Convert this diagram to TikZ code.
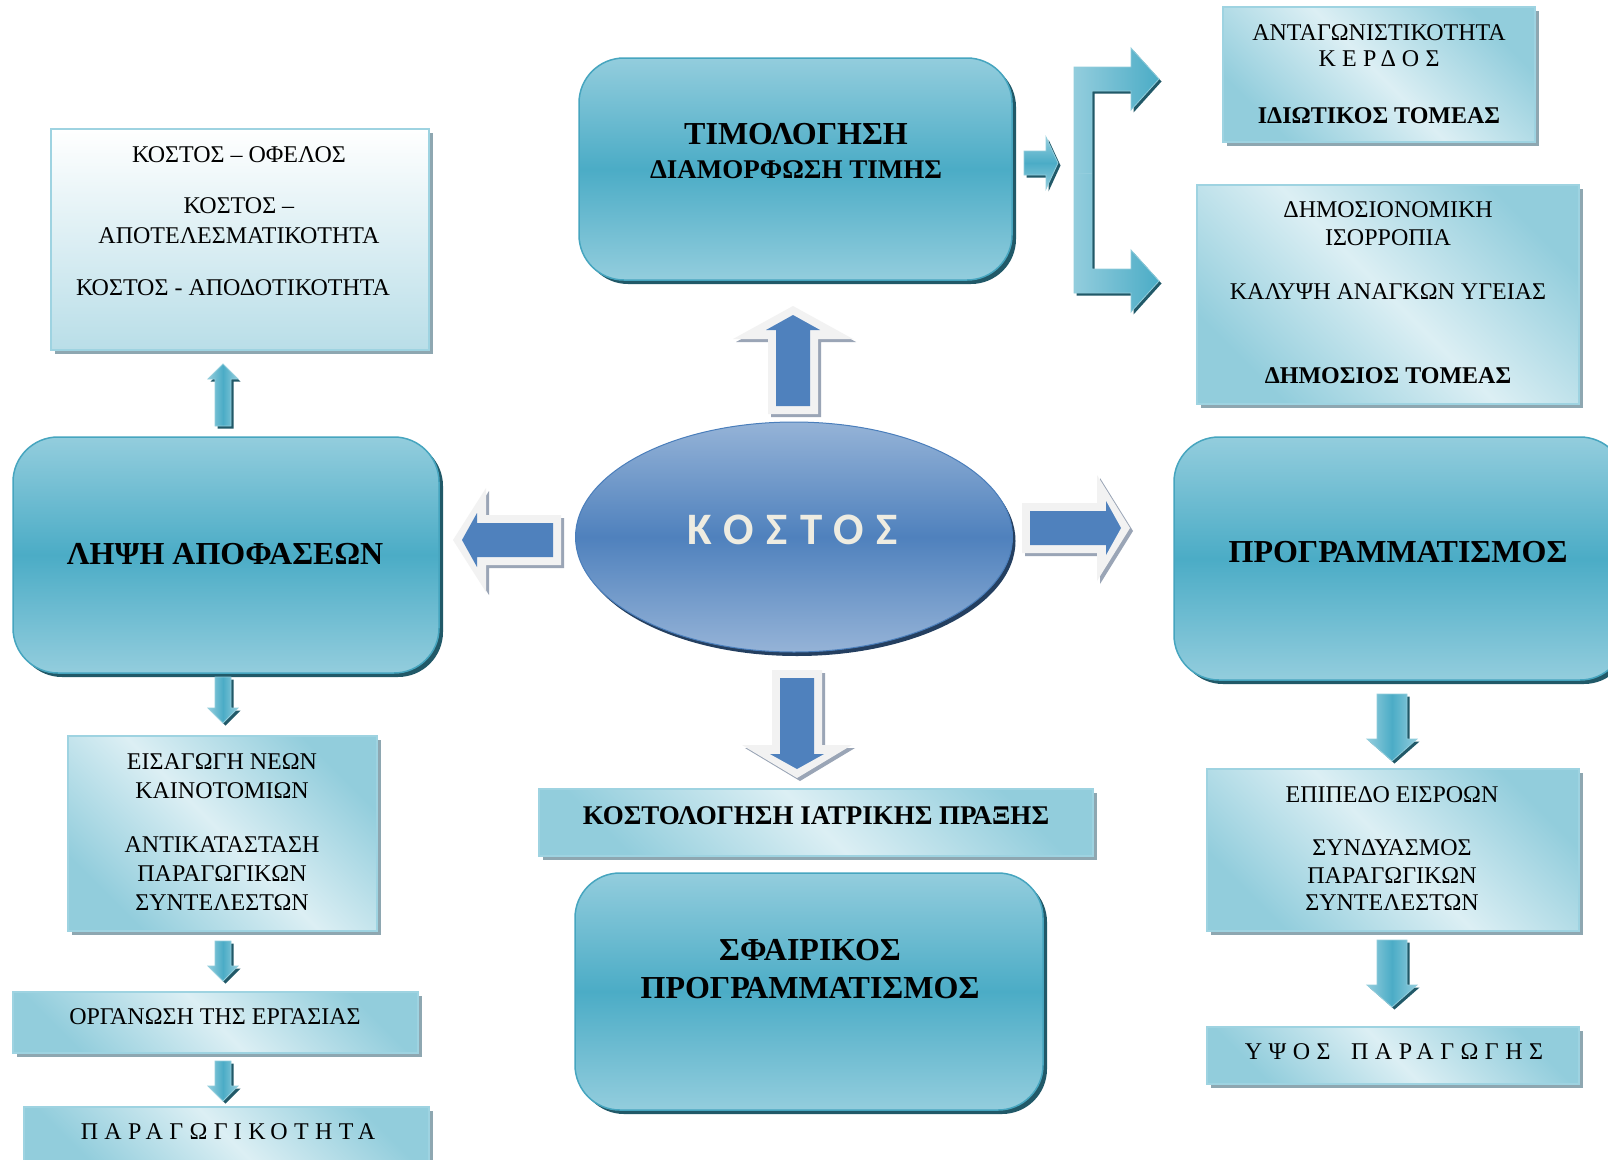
\documentclass[tikz,border=0pt]{standalone}
\usepackage{fontspec}
\setmainfont{Liberation Serif}
\newfontfamily\ellipsefont{Carlito}
\usetikzlibrary{shapes.geometric,shadows}

\definecolor{tealL}{HTML}{93CDDD}
\definecolor{tealM}{HTML}{4BACC6}
\definecolor{tealB}{HTML}{46A5BF}
\definecolor{tealS}{HTML}{215968}
\definecolor{boxC}{HTML}{92CDDC}
\definecolor{boxL}{HTML}{DCEFF4}
\definecolor{boxT}{HTML}{B9DEE8}
\definecolor{boxB}{HTML}{9ED3E1}
\definecolor{boxS}{HTML}{8EA7B1}
\definecolor{blueM}{HTML}{4F81BD}
\definecolor{blueL}{HTML}{95B3D7}
\definecolor{blueB}{HTML}{4A7EBB}
\definecolor{blueS}{HTML}{243F60}
\definecolor{arrW}{HTML}{F2F2F2}
\definecolor{arrS}{HTML}{9AA5B6}
\definecolor{kText}{HTML}{EEECE1}

\tikzset{
  tealbox/.style={rounded corners=45pt, draw=tealB, line width=1.5pt,
    top color=tealL, bottom color=tealL, middle color=tealM,
    drop shadow={shadow xshift=4pt, shadow yshift=-4pt, fill=tealS, opacity=1}},
  litebase/.style={draw=boxB, line width=2pt,
    drop shadow={shadow xshift=4pt, shadow yshift=-4pt, fill=boxS, opacity=1}},
  litebox/.style={litebase, top color=boxC, bottom color=boxC, middle color=boxL, shading angle=-45},
  litetop/.style={litebase, top color=white, bottom color=boxT},
  txt/.style={font=\fontsize{24}{30}\selectfont, align=center, inner sep=0pt},
  headtxt/.style={font=\bfseries\fontsize{32}{38}\selectfont, align=center, inner sep=0pt},
  subtxt/.style={font=\bfseries\fontsize{27}{32}\selectfont, align=center, inner sep=0pt},
}

% white-rimmed blue block arrow; apex at (#1,#2), direction #3, outer head half-width #4
\newcommand\blockarrow[4]{%
  \begin{scope}[shift={(#1+3,#2+3)}, rotate=#3]
    \fill[arrS] (0,0) -- (-33,#4) -- (-33,25) -- (-108,25) -- (-108,-25) -- (-33,-25) -- (-33,-#4) -- cycle;
  \end{scope}
  \begin{scope}[shift={(#1,#2)}, rotate=#3]
    \fill[arrW] (0,0) -- (-33,#4) -- (-33,25) -- (-108,25) -- (-108,-25) -- (-33,-25) -- (-33,-#4) -- cycle;
    \fill[blueM] (-9,0) -- (-24,27) -- (-24,17) -- (-100,17) -- (-100,-17) -- (-24,-17) -- (-24,-27) -- cycle;
  \end{scope}}

% small cyan vertical arrow: centre x, base y, tip y, shaft half, head half, head-base y
\newcommand\cyanarrow[6]{%
  \begin{scope}[shift={(2.5,2.5)}]
    \fill[tealS] (#1-#4,#2) -- (#1-#4,#6) -- (#1-#5,#6) -- (#1,#3) -- (#1+#5,#6) -- (#1+#4,#6) -- (#1+#4,#2) -- cycle;
  \end{scope}
  \shade[left color=tealL, right color=tealL, middle color=tealM, draw=boxC, line width=0.8pt]
    (#1-#4,#2) -- (#1-#4,#6) -- (#1-#5,#6) -- (#1,#3) -- (#1+#5,#6) -- (#1+#4,#6) -- (#1+#4,#2) -- cycle;}

\begin{document}
\begin{tikzpicture}[x=1pt,y=-1pt]
\useasboundingbox (0,0) rectangle (1608,1159);
\clip (0,0) rectangle (1608,1159);
\fill[white] (0,0) rectangle (1608,1159);

% ---- main boxes ----
\node[tealbox, minimum width=433pt, minimum height=222pt] (timol) at (795.5,169) {};
\node[tealbox, minimum width=426pt, minimum height=236pt] (lipsi) at (226,555) {};
\node[tealbox, minimum width=451pt, minimum height=243pt] (progr) at (1399.5,558.5) {};
\node[tealbox, minimum width=468pt, minimum height=237pt] (sfair) at (809,991.5) {};

\node[litetop, minimum width=378pt, minimum height=221pt] (ofelos) at (240,239.5) {};
\node[litebox, minimum width=312pt, minimum height=135pt] (idiot) at (1379,74.5) {};
\node[litebox, minimum width=382pt, minimum height=219pt] (dimos) at (1388,294.5) {};
\node[litebox, minimum width=309pt, minimum height=195pt] (eisag) at (222.5,833.5) {};
\node[litebox, minimum width=405pt, minimum height=61pt] (organ) at (215.5,1022.5) {};
\node[litebox, minimum width=405pt, minimum height=58pt] (parag) at (226.5,1136) {};
\node[litebox, minimum width=554pt, minimum height=67pt] (kostol) at (816,822.5) {};
\node[litebox, minimum width=372pt, minimum height=162pt] (epip) at (1393,850) {};
\node[litebox, minimum width=372pt, minimum height=57pt] (ypsos) at (1393,1055.5) {};

% ---- central ellipse ----
\node[ellipse, minimum width=437pt, minimum height=230pt, draw=blueB, line width=1pt,
      top color=blueL, bottom color=blueL, middle color=blueM,
      drop shadow={shadow xshift=3pt, shadow yshift=-4pt, fill=blueS, opacity=1}] (kostos) at (794,537) {};
\node[font=\ellipsefont\bfseries\fontsize{45}{45}\selectfont\addfontfeature{LetterSpace=28},
      text=kText, inner sep=0pt] (kostos-t) at (793,530) {ΚΟΣΤΟΣ};

% ---- block arrows out of the ellipse ----
\blockarrow{793}{306}{90}{60}
\blockarrow{797}{778}{-90}{55}
\blockarrow{453}{540}{180}{52}
\blockarrow{1130}{528}{0}{53}

% ---- small cyan arrows ----
\cyanarrow{223}{426}{364}{8}{15}{379}
\cyanarrow{223}{677}{723}{8}{15}{708}
\cyanarrow{223}{941}{981}{8}{15}{966}
\cyanarrow{223}{1061}{1101}{8}{15}{1086}
\cyanarrow{1392}{694}{761}{15}{25}{739}
\cyanarrow{1392}{940}{1007}{15}{25}{985}

% pricing arrow and bracket
\begin{scope}[shift={(2.5,2.5)}]
  \fill[tealS] (1024,151) -- (1046,151) -- (1046,137) -- (1058,163) -- (1046,189) -- (1046,175) -- (1024,175) -- cycle;
  \fill[tealS] (1074,67) -- (1131,67) -- (1131,48) -- (1159,79) -- (1131,110) -- (1131,91) -- (1092,91)
     -- (1092,269) -- (1131,269) -- (1131,250) -- (1159,281) -- (1131,312) -- (1131,293) -- (1074,293) -- cycle;
\end{scope}
\shade[top color=tealL, bottom color=tealL, middle color=tealM, draw=boxC, line width=0.8pt]
  (1024,151) -- (1046,151) -- (1046,137) -- (1058,163) -- (1046,189) -- (1046,175) -- (1024,175) -- cycle;
\shade[left color=tealL, right color=tealM, draw=boxC, line width=0.8pt]
  (1074,67) -- (1131,67) -- (1131,48) -- (1159,79) -- (1131,110) -- (1131,91) -- (1092,91)
  -- (1092,269) -- (1131,269) -- (1131,250) -- (1159,281) -- (1131,312) -- (1131,293) -- (1074,293) -- cycle;
\draw[tealL, line width=0.8pt] (1074,173) -- (1092,173);

% ---- texts ----
\node[headtxt] (timol-t) at (796,134) {ΤΙΜΟΛΟΓΗΣΗ};
\node[subtxt] (timol-s) at (796,170) {ΔΙΑΜΟΡΦΩΣΗ ΤΙΜΗΣ};
\node[headtxt] (lipsi-t) at (225,554) {ΛΗΨΗ ΑΠΟΦΑΣΕΩΝ};
\node[headtxt] (progr-t) at (1398,552) {ΠΡΟΓΡΑΜΜΑΤΙΣΜΟΣ};
\node[headtxt, anchor=north] (sfair-t) at (810,939.5) {ΣΦΑΙΡΙΚΟΣ\\ΠΡΟΓΡΑΜΜΑΤΙΣΜΟΣ};
\node[subtxt] (kostol-t) at (816,816) {ΚΟΣΤΟΛΟΓΗΣΗ ΙΑΤΡΙΚΗΣ ΠΡΑΞΗΣ};

\node[txt, anchor=north] (ofelos-t) at (239,146)
  {ΚΟΣΤΟΣ – ΟΦΕΛΟΣ\\[21pt]ΚΟΣΤΟΣ –\\ΑΠΟΤΕΛΕΣΜΑΤΙΚΟΤΗΤΑ\\[22pt]ΚΟΣΤΟΣ - ΑΠΟΔΟΤΙΚΟΤΗΤΑ\hspace*{12pt}};
\node[txt, font=\fontsize{24}{26}\selectfont, anchor=north] (idiot-t) at (1379,24)
  {ΑΝΤΑΓΩΝΙΣΤΙΚΟΤΗΤΑ\\{\addfontfeature{LetterSpace=26}ΚΕΡΔΟΣ}\\[31pt]\textbf{ΙΔΙΩΤΙΚΟΣ ΤΟΜΕΑΣ}};
\node[txt, font=\fontsize{24}{28}\selectfont, anchor=north] (dimos-t) at (1388,201)
  {ΔΗΜΟΣΙΟΝΟΜΙΚΗ\\ΙΣΟΡΡΟΠΙΑ\\[26pt]ΚΑΛΥΨΗ ΑΝΑΓΚΩΝ ΥΓΕΙΑΣ\\[56pt]\textbf{ΔΗΜΟΣΙΟΣ ΤΟΜΕΑΣ}};
\node[txt, font=\fontsize{24}{29}\selectfont, anchor=north] (eisag-t) at (222,753)
  {ΕΙΣΑΓΩΓΗ ΝΕΩΝ\\ΚΑΙΝΟΤΟΜΙΩΝ\\[25pt]ΑΝΤΙΚΑΤΑΣΤΑΣΗ\\ΠΑΡΑΓΩΓΙΚΩΝ\\ΣΥΝΤΕΛΕΣΤΩΝ};
\node[txt, font=\fontsize{24}{27.5}\selectfont, anchor=north] (epip-t) at (1392,786)
  {ΕΠΙΠΕΔΟ ΕΙΣΡΟΩΝ\\[26pt]ΣΥΝΔΥΑΣΜΟΣ\\ΠΑΡΑΓΩΓΙΚΩΝ\\ΣΥΝΤΕΛΕΣΤΩΝ};
\node[txt] (organ-t) at (215,1017) {ΟΡΓΑΝΩΣΗ ΤΗΣ ΕΡΓΑΣΙΑΣ};
\node[txt, font=\fontsize{24}{30}\selectfont\addfontfeature{LetterSpace=26.5}] (parag-t) at (228,1132) {ΠΑΡΑΓΩΓΙΚΟΤΗΤΑ};
\node[txt, font=\fontsize{24}{30}\selectfont\addfontfeature{LetterSpace=27}] (ypsos-t) at (1394,1052) {ΥΨΟΣ\hspace{8pt} ΠΑΡΑΓΩΓΗΣ};
\end{tikzpicture}
\end{document}
